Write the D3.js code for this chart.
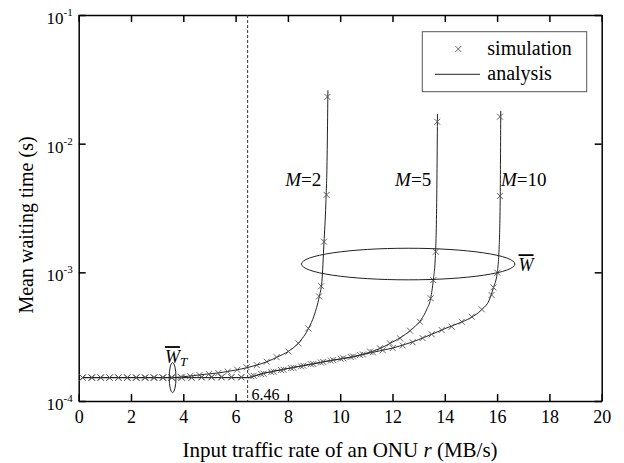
<!DOCTYPE html>
<html>
<head>
<meta charset="utf-8">
<script src="https://cdn.jsdelivr.net/npm/d3@7"></script>
<style>
  body { margin: 0; background: #fff; }
</style>
</head>
<body>
<div id="chart"></div>
<script>
// Chart data
var xTicks = [0, 2, 4, 6, 8, 10, 12, 14, 16, 18, 20];
var yTicks = [1e-4, 1e-3, 1e-2, 1e-1];
var yTickExp = ["-4", "-3", "-2", "-1"];
var threshold = 6.46;

// simulation points
var simX_M2 = [0.15, 0.5, 0.84, 1.18, 1.52, 1.86, 2.2, 2.54, 2.88, 3.22, 3.56, 3.9, 4.26, 4.62, 4.98, 5.34, 5.7, 6.06, 6.42, 6.81, 7.19, 7.57, 8.02, 8.4, 8.78, 9.19, 9.27, 9.38, 9.48, 9.51];
var simY_M2 = [1.52e-4, 1.52e-4, 1.52e-4, 1.52e-4, 1.52e-4, 1.52e-4, 1.52e-4, 1.52e-4, 1.52e-4, 1.52e-4, 1.52e-4, 1.54e-4, 1.56e-4, 1.59e-4, 1.62e-4, 1.65e-4, 1.69e-4, 1.75e-4, 1.83e-4, 1.9e-4, 2.02e-4, 2.19e-4, 2.42e-4, 2.8e-4, 3.67e-4, 6.5e-4, 7.8e-4, 1.73e-3, 4.0e-3, 2.31e-2];

var simX_M5 = [0.15, 0.5, 0.84, 1.18, 1.52, 1.86, 2.2, 2.54, 2.88, 3.22, 3.56, 3.94, 4.32, 4.7, 5.08, 5.46, 5.84, 6.22, 6.6, 6.98, 7.36, 7.74, 8.12, 8.5, 8.88, 9.26, 9.64, 10.02, 10.4, 10.76, 11.14, 11.52, 11.9, 12.29, 12.67, 13.05, 13.46, 13.56, 13.66, 13.71];
var simY_M5 = [1.52e-4, 1.52e-4, 1.52e-4, 1.52e-4, 1.52e-4, 1.52e-4, 1.52e-4, 1.52e-4, 1.52e-4, 1.52e-4, 1.52e-4, 1.52e-4, 1.52e-4, 1.53e-4, 1.53e-4, 1.53e-4, 1.53e-4, 1.53e-4, 1.56e-4, 1.62e-4, 1.68e-4, 1.74e-4, 1.8e-4, 1.86e-4, 1.93e-4, 1.99e-4, 2.06e-4, 2.13e-4, 2.2e-4, 2.28e-4, 2.42e-4, 2.57e-4, 2.81e-4, 3.07e-4, 3.52e-4, 4.13e-4, 6.28e-4, 8.7e-4, 1.445e-3, 1.48e-2];

var simX_M10 = [0.15, 0.5, 0.84, 1.18, 1.52, 1.86, 2.2, 2.54, 2.88, 3.22, 3.56, 3.94, 4.32, 4.7, 5.08, 5.46, 5.84, 6.22, 6.69, 7.07, 7.45, 7.83, 8.21, 8.59, 8.97, 9.35, 9.73, 10.11, 10.49, 10.87, 11.25, 11.63, 12.01, 12.39, 12.77, 13.15, 13.5, 13.88, 14.26, 14.65, 15.03, 15.41, 15.79, 15.86, 16.01, 16.11, 16.11];
var simY_M10 = [1.52e-4, 1.52e-4, 1.52e-4, 1.52e-4, 1.52e-4, 1.52e-4, 1.52e-4, 1.52e-4, 1.52e-4, 1.52e-4, 1.52e-4, 1.52e-4, 1.52e-4, 1.53e-4, 1.53e-4, 1.53e-4, 1.53e-4, 1.53e-4, 1.57e-4, 1.63e-4, 1.69e-4, 1.75e-4, 1.81e-4, 1.88e-4, 1.94e-4, 2.01e-4, 2.08e-4, 2.15e-4, 2.22e-4, 2.3e-4, 2.39e-4, 2.48e-4, 2.58e-4, 2.7e-4, 2.86e-4, 3.08e-4, 3.3e-4, 3.56e-4, 3.78e-4, 4.13e-4, 4.52e-4, 5.16e-4, 6.67e-4, 7.64e-4, 9.93e-4, 3.92e-3, 1.62e-2];

// analysis curves
var anaX_M2 = [0.15, 3.6, 4.2, 4.8, 5.4, 6.0, 6.46, 6.8, 7.2, 7.6, 8.0, 8.4, 8.8, 9.0, 9.2, 9.3, 9.38, 9.45, 9.5, 9.53];
var anaY_M2 = [1.52e-4, 1.52e-4, 1.56e-4, 1.61e-4, 1.66e-4, 1.74e-4, 1.82e-4, 1.9e-4, 2.02e-4, 2.2e-4, 2.42e-4, 2.82e-4, 3.7e-4, 4.6e-4, 6.5e-4, 8.5e-4, 1.7e-3, 3.4e-3, 8e-3, 2.6e-2];

var anaX_M5 = [0.15, 6.46, 7.0, 7.5, 8.0, 8.5, 9.0, 9.5, 10.0, 10.5, 11.0, 11.5, 12.0, 12.4, 12.8, 13.1, 13.3, 13.46, 13.56, 13.64, 13.69, 13.72];
var anaY_M5 = [1.52e-4, 1.52e-4, 1.63e-4, 1.71e-4, 1.79e-4, 1.87e-4, 1.95e-4, 2.04e-4, 2.12e-4, 2.21e-4, 2.35e-4, 2.55e-4, 2.87e-4, 3.2e-4, 3.7e-4, 4.3e-4, 5.1e-4, 6.3e-4, 8.7e-4, 1.35e-3, 3.5e-3, 1.7e-2];

var anaX_M10 = [0.15, 6.46, 7.0, 7.5, 8.0, 8.5, 9.0, 9.5, 10.0, 10.5, 11.0, 11.5, 12.0, 12.5, 13.0, 13.5, 14.0, 14.5, 15.0, 15.4, 15.7, 15.86, 16.0, 16.08, 16.12, 16.14];
var anaY_M10 = [1.52e-4, 1.52e-4, 1.63e-4, 1.71e-4, 1.79e-4, 1.87e-4, 1.95e-4, 2.04e-4, 2.12e-4, 2.21e-4, 2.33e-4, 2.45e-4, 2.58e-4, 2.76e-4, 3.0e-4, 3.3e-4, 3.65e-4, 4.0e-4, 4.45e-4, 5.1e-4, 6.1e-4, 7.6e-4, 9.8e-4, 1.6e-3, 4e-3, 1.8e-2];

var curveLabels = ["M=2", "M=5", "M=10"];
var curveLabelX = [7.9, 12.1, 16.15];
var curveLabelY = [4.7e-3, 4.7e-3, 4.7e-3];

var FONT = "'Liberation Serif'";

// Set SVG specs
var svgWidth = 624;
var svgHeight = 463;
var margin = { top: 15, right: 22.3, bottom: 62, left: 78.7 };
var width = svgWidth - margin.left - margin.right;
var height = svgHeight - margin.top - margin.bottom;

var svg = d3.select("#chart")
  .append("svg")
  .attr("width", svgWidth)
  .attr("height", svgHeight);

var chartGroup = svg.append("g")
  .attr("transform", `translate(${margin.left}, ${margin.top})`);

// Scales
var xScale = d3.scaleLinear().domain([0, 20]).range([0, width]);
var yScale = d3.scaleLog().domain([1e-4, 1e-1]).range([height, 0]);

// Axes, ticks pointing inward
var bottomAxis = d3.axisBottom(xScale).tickValues(xTicks).tickSize(-7).tickSizeOuter(0).tickPadding(9).tickFormat(d3.format("d"));
var topAxis = d3.axisTop(xScale).tickValues(xTicks).tickSize(-7).tickSizeOuter(0).tickFormat("");
var leftAxis = d3.axisLeft(yScale).tickValues(yTicks).tickSize(-7).tickSizeOuter(0).tickPadding(6).tickFormat("");
var rightAxis = d3.axisRight(yScale).tickValues(yTicks).tickSize(-7).tickSizeOuter(0).tickFormat("");

var gx = chartGroup.append("g").attr("transform", `translate(0, ${height})`).call(bottomAxis);
chartGroup.append("g").call(topAxis);
var gy = chartGroup.append("g").call(leftAxis);
chartGroup.append("g").attr("transform", `translate(${width}, 0)`).call(rightAxis);

chartGroup.selectAll(".domain").attr("stroke", "#000").attr("stroke-width", 1.5);
chartGroup.selectAll(".tick line").attr("stroke", "#000").attr("stroke-width", 1.5);
gx.selectAll("text").attr("font-size", "18px").attr("fill", "#000");

// y labels as 10^n
gy.selectAll(".tick text").each(function(d, i) {
  var t = d3.select(this);
  t.attr("font-size", "17px").attr("dy", "0.5em").attr("fill", "#000");
  t.text("10");
  t.append("tspan").attr("font-size", "11px").attr("dy", "-8").text(yTickExp[i]);
});

// Threshold line
chartGroup.append("line")
  .attr("x1", xScale(threshold)).attr("x2", xScale(threshold))
  .attr("y1", 0).attr("y2", height)
  .attr("stroke", "#333").attr("stroke-width", 1)
  .attr("stroke-dasharray", "3,2");

chartGroup.append("text")
  .attr("x", xScale(threshold) + 4)
  .attr("y", height - 1)
  .attr("font-size", "16px")
  .text("6.46");

// Analysis curves
var line = d3.line()
  .x(d => xScale(d[0]))
  .y(d => yScale(d[1]))
  .curve(d3.curveMonotoneX);

[[anaX_M2, anaY_M2], [anaX_M5, anaY_M5], [anaX_M10, anaY_M10]].forEach(function(s) {
  chartGroup.append("path")
    .datum(d3.zip(s[0], s[1]))
    .attr("d", line)
    .attr("fill", "none")
    .attr("stroke", "#222")
    .attr("stroke-width", 1);
});

// Simulation markers
function cross(sel, cx, cy, r) {
  sel.append("path")
    .attr("d", `M${cx - r},${cy - r}L${cx + r},${cy + r}M${cx - r},${cy + r}L${cx + r},${cy - r}`)
    .attr("stroke", "#555")
    .attr("stroke-width", 0.9)
    .attr("fill", "none");
}

[[simX_M2, simY_M2], [simX_M5, simY_M5], [simX_M10, simY_M10]].forEach(function(s) {
  var g = chartGroup.append("g");
  d3.zip(s[0], s[1]).forEach(function(p) {
    cross(g, xScale(p[0]), yScale(p[1]), 3);
  });
});

// Curve labels
curveLabels.forEach(function(lbl, i) {
  var t = chartGroup.append("text")
    .attr("x", xScale(curveLabelX[i]))
    .attr("y", yScale(curveLabelY[i]))
    .attr("font-size", "19px");
  t.append("tspan").attr("font-style", "italic").text("M");
  t.append("tspan").text(lbl.slice(1));
});

// Ellipses
chartGroup.append("ellipse")
  .attr("cx", xScale(12.6)).attr("cy", yScale(1.16e-3))
  .attr("rx", xScale(12.6) - xScale(8.52)).attr("ry", 15.8)
  .attr("fill", "none").attr("stroke", "#222").attr("stroke-width", 1);

chartGroup.append("ellipse")
  .attr("cx", xScale(3.59)).attr("cy", yScale(1.52e-4))
  .attr("rx", 3.4).attr("ry", 15)
  .attr("fill", "none").attr("stroke", "#222").attr("stroke-width", 1);

// W bar labels
var wbar = chartGroup.append("text")
  .attr("x", xScale(16.82)).attr("y", yScale(1.02e-3))
  .attr("font-size", "18px").attr("font-style", "italic");
wbar.append("tspan").attr("text-decoration", "overline").text("W");

var wt = chartGroup.append("text")
  .attr("x", xScale(3.3)).attr("y", yScale(1.97e-4))
  .attr("font-size", "18px").attr("font-style", "italic");
wt.append("tspan").attr("text-decoration", "overline").text("W");
wt.append("tspan").attr("font-size", "13px").attr("dy", "3").text("T");

// Legend
var legend = chartGroup.append("g")
  .attr("transform", `translate(${422.3 - margin.left}, ${31.7 - margin.top})`);
legend.append("rect")
  .attr("width", 164.4).attr("height", 60)
  .attr("fill", "#fff").attr("stroke", "#555").attr("stroke-width", 1);
cross(legend, 36, 17.3, 3);
legend.append("line")
  .attr("x1", 12.7).attr("x2", 57.7).attr("y1", 42.6).attr("y2", 42.6)
  .attr("stroke", "#222").attr("stroke-width", 1);
legend.append("text").attr("x", 65).attr("y", 23.5).attr("font-size", "20px").text("simulation");
legend.append("text").attr("x", 65).attr("y", 48.5).attr("font-size", "20px").text("analysis");

// Labels for axes
var xTitle = chartGroup.append("text")
  .attr("x", (340 - margin.left))
  .attr("y", height + 56)
  .attr("text-anchor", "middle")
  .attr("font-size", "21px");
xTitle.append("tspan").text("Input traffic rate of an ONU ");
xTitle.append("tspan").attr("font-style", "italic").text("r");
xTitle.append("tspan").text(" (MB/s)");

chartGroup.append("text")
  .attr("transform", "rotate(-90)")
  .attr("x", 0 - (225 - margin.top))
  .attr("y", 33 - margin.left)
  .attr("text-anchor", "middle")
  .attr("font-size", "20px")
  .text("Mean waiting time (s)");

// Serif font on every text element
svg.selectAll("text").attr("font-family", FONT);
</script>
</body>
</html>
